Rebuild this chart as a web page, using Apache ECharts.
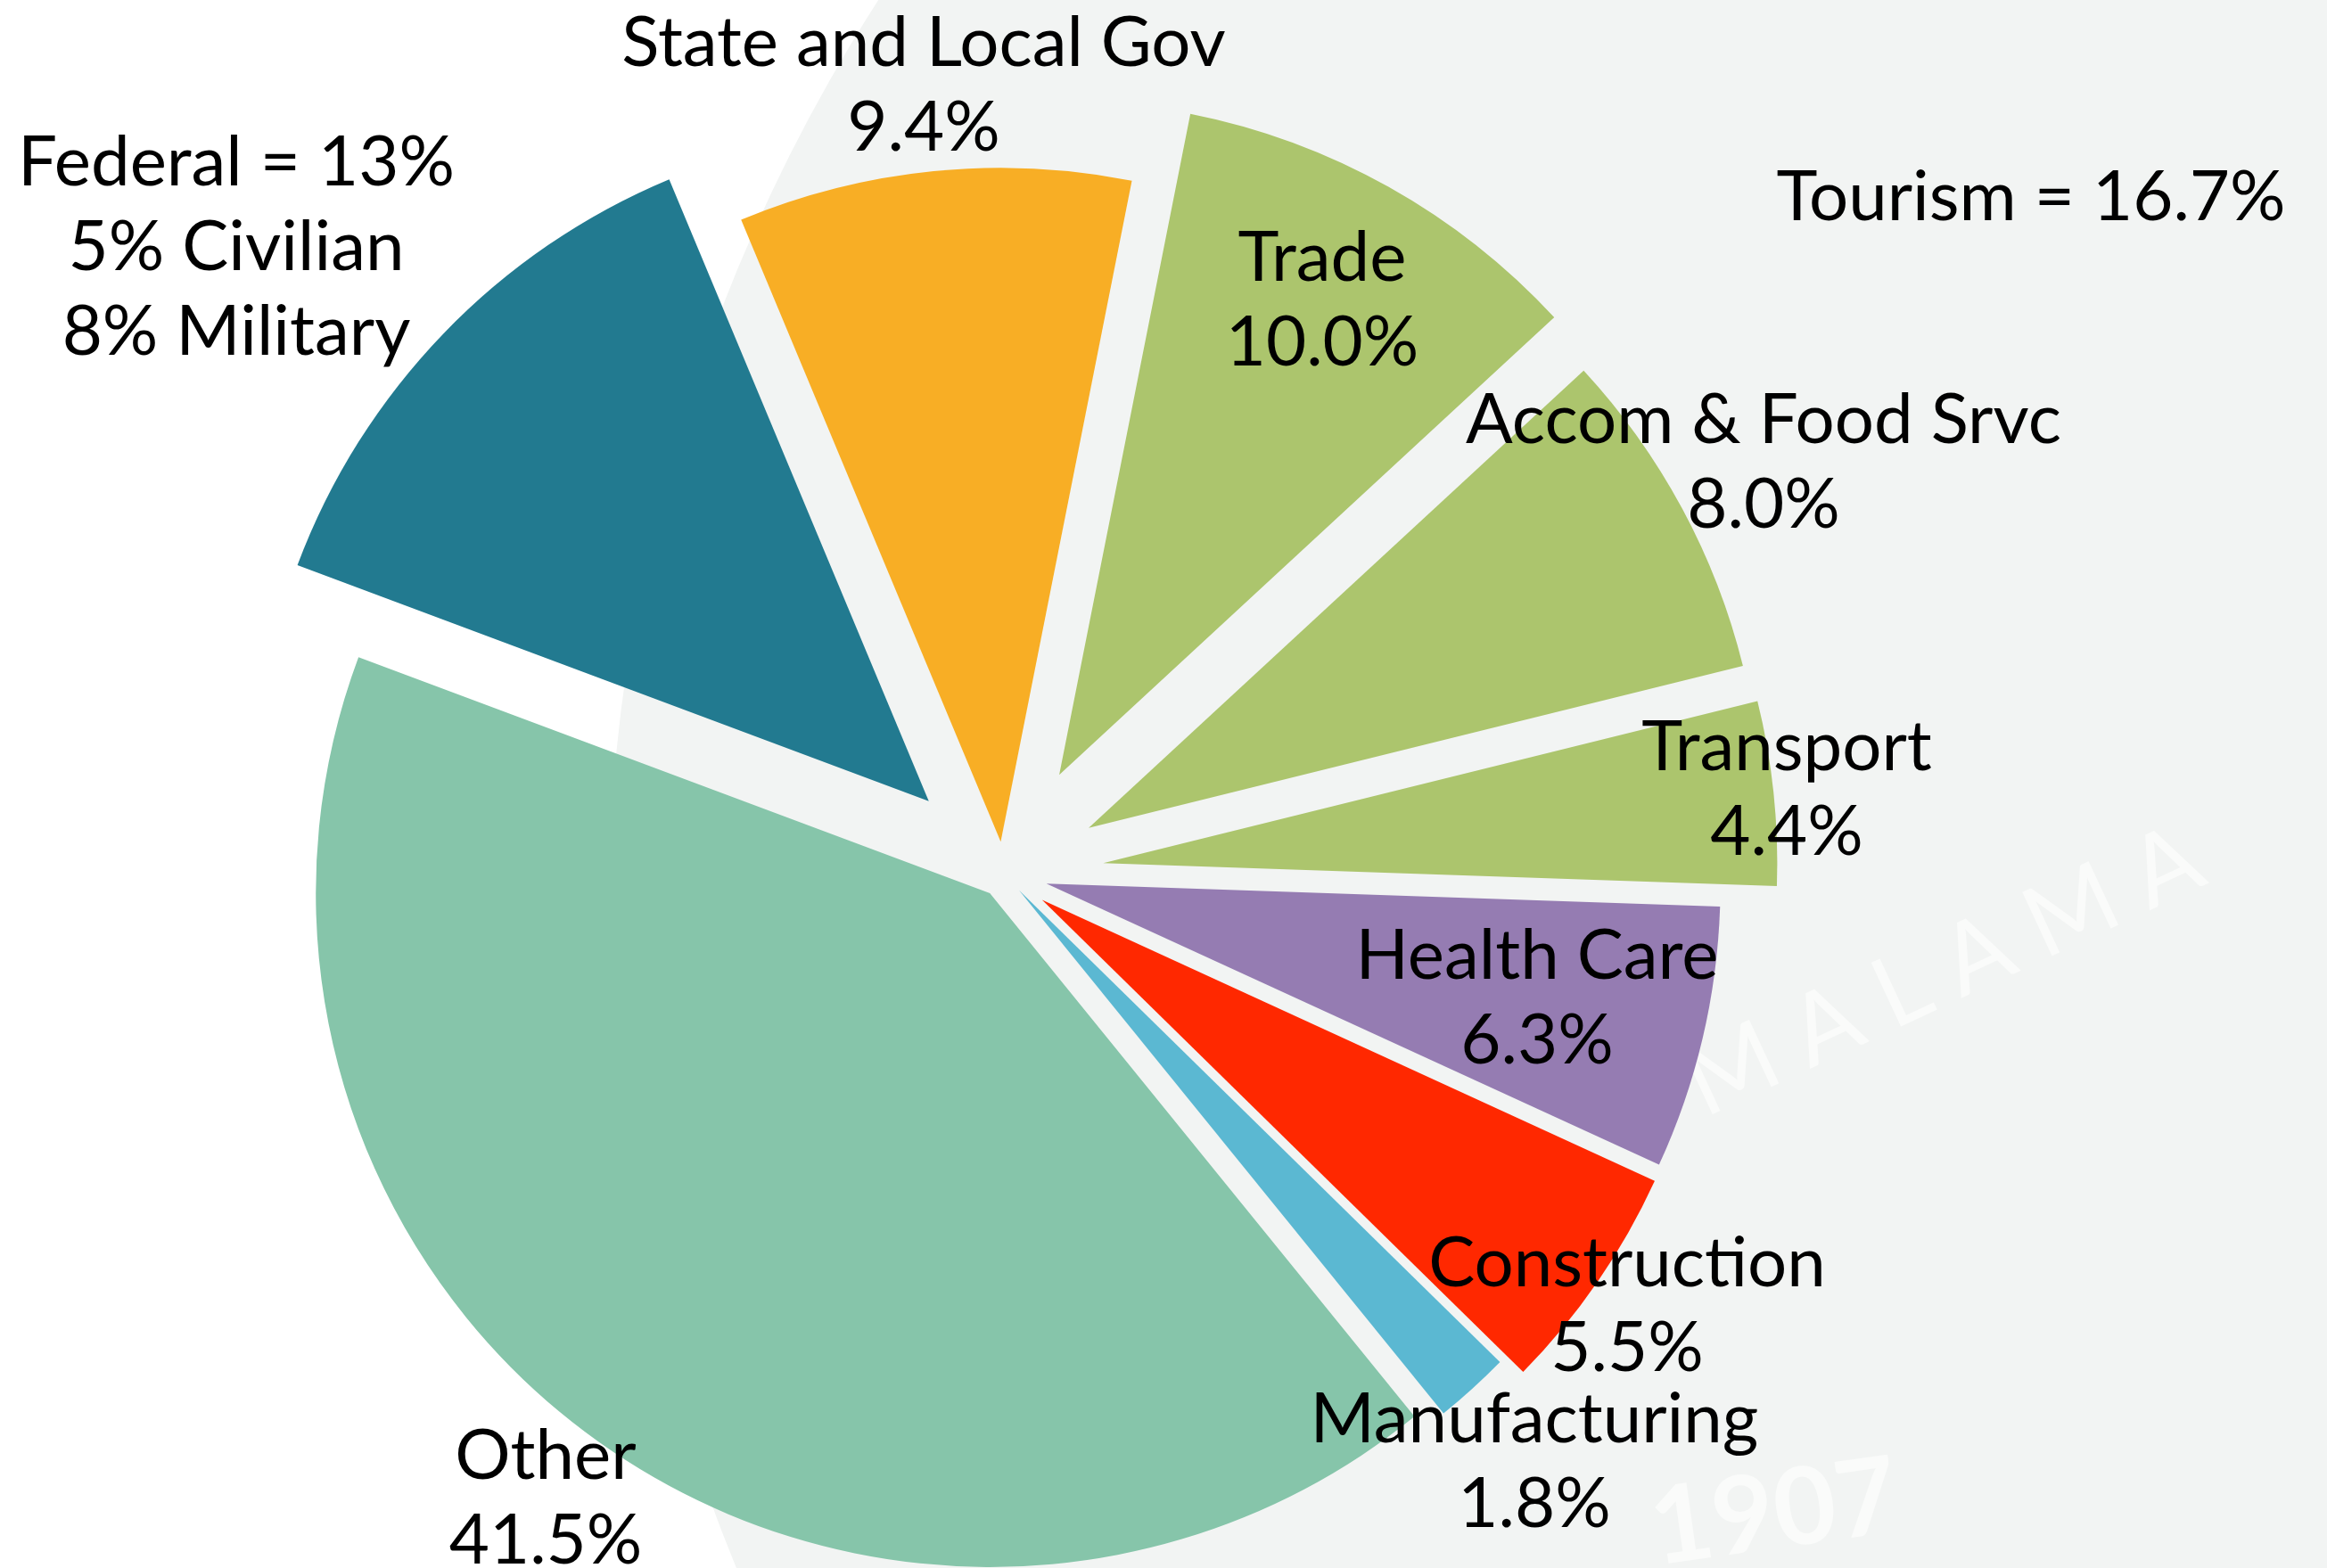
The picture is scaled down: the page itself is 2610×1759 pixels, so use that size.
<!DOCTYPE html>
<html>
<head>
<meta charset="utf-8">
<script src="https://cdn.jsdelivr.net/npm/echarts@6/dist/echarts.min.js"></script>
<style>
  html, body { margin: 0; padding: 0; background: #fff; }
  #main { width: 2610px; height: 1759px; }
</style>
</head>
<body>
<div id="main"></div>
<script>
// Hawaii jobs by sector, share of total (%)
var sectors = ['Federal', 'State and Local Gov', 'Trade', 'Accom & Food Srvc', 'Transport',
  'Health Care', 'Construction', 'Manufacturing', 'Other']
var shares = [13, 9.4, 10.0, 8.0, 4.4, 6.3, 5.5, 1.8, 41.5]
var federalParts = [['Civilian', 5], ['Military', 8]]
var tourismShare = 16.7

var colors = ['#227a90', '#f8ae25', '#acc56d', '#acc56d', '#acc56d', '#957cb2', '#ff2800', '#5bb8d2', '#86c5aa']
// how far each slice is pulled out from the middle, px
var pullOut = [117, 36, 127, 108, 112, 49, 52, 25, 27]
// centre of each label block
var labelAt = [[265, 278], [1036, 96], [1483, 337], [1978, 519], [2004, 886],
  [1724, 1120], [1825, 1465], [1721, 1640], [612, 1681]]

var cx = 1126
var cy = 980
var radius = 756
var startBearing = 290.5 // clockwise from 12 o'clock
var font = 'Lato, "Open Sans", sans-serif'

function labelText (i) {
  if (i === 0) {
    return sectors[0] + ' = ' + shares[0] + '%\n' +
      federalParts.map(function (p) { return p[1] + '% ' + p[0] }).join('\n')
  }
  return sectors[i] + '\n' + shares[i].toFixed(1) + '%'
}

var total = shares.reduce(function (a, b) { return a + b }, 0)
var series = []
var acc = 0
shares.forEach(function (v, k) {
  var mid = (startBearing + (acc + v / 2) / total * 360) * Math.PI / 180
  acc += v
  series.push({
    type: 'pie',
    silent: true,
    animation: false,
    clockwise: true,
    startAngle: 90 - startBearing + 360,
    radius: radius,
    center: [cx + pullOut[k] * Math.sin(mid), cy - pullOut[k] * Math.cos(mid)],
    avoidLabelOverlap: false,
    emphasis: { disabled: true },
    label: { show: false },
    labelLine: { show: false },
    labelLayout: function (p) {
      if (p.dataIndex !== k) return {}
      return { x: labelAt[k][0], y: labelAt[k][1], align: 'center', verticalAlign: 'middle' }
    },
    data: shares.map(function (s, i) {
      return {
        name: sectors[i],
        value: s,
        itemStyle: { color: i === k ? colors[i] : 'rgba(0,0,0,0)' },
        label: {
          show: i === k,
          position: 'inside',
          formatter: labelText(i),
          color: '#000',
          fontFamily: font,
          fontSize: 78,
          lineHeight: 95
        }
      }
    })
  })
})

var myChart = echarts.init(document.getElementById('main'))
var option = {
  backgroundColor: '#ffffff',
  graphic: [
    // faint seal watermark behind the pie
    { type: 'circle', z: -10, silent: true, shape: { cx: 2590, cy: 1032, r: 1908 }, style: { fill: '#f2f4f3' } },
    { type: 'text', z: -8, silent: true, x: 2180, y: 1090, rotation: 25 * Math.PI / 180,
      style: { text: 'M A L A M A', fill: '#fafbfa', font: '110px ' + font, align: 'center', verticalAlign: 'middle' } },
    { type: 'text', z: -8, silent: true, x: 1990, y: 1698, rotation: 8 * Math.PI / 180,
      style: { text: '1907', fill: '#fafbfa', font: 'bold 120px ' + font, align: 'center', verticalAlign: 'middle' } },
    { type: 'text', z: 10, x: 2278, y: 222,
      style: { text: 'Tourism = ' + tourismShare + '%', fill: '#000', font: '78px ' + font, align: 'center', verticalAlign: 'middle' } }
  ],
  series: series
}
myChart.setOption(option)
</script>
</body>
</html>
